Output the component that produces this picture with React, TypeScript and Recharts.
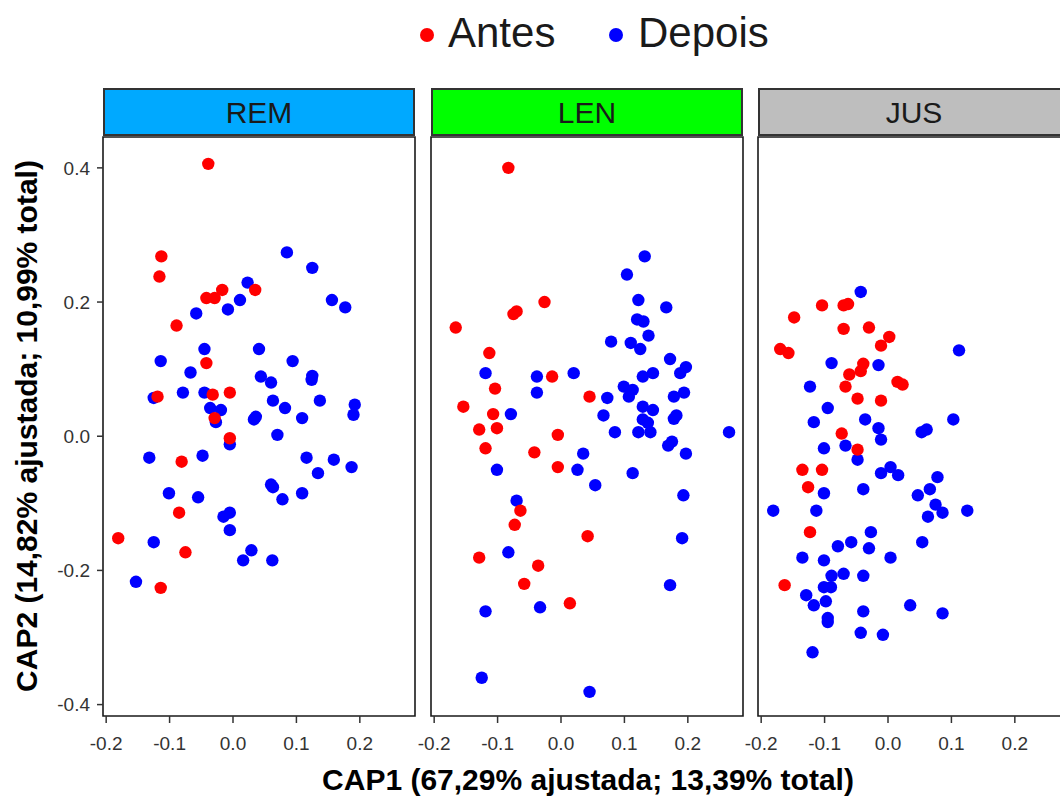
import { ScatterChart, Scatter, XAxis, YAxis, ReferenceArea } from 'recharts';

type Pt = [number, number];

// facet labels and strip colours
const facets = ['REM', 'LEN', 'JUS'];
const stripFills = ['#00A9FF', '#00FF00', '#BEBEBE'];

const xTicks = [-0.2, -0.1, 0, 0.1, 0.2];
const yTicks = [-0.4, -0.2, 0, 0.2, 0.4];

const legendLabels = ['Antes', 'Depois'];
const xTitle = 'CAP1 (67,29% ajustada; 13,39% total)';
const yTitle = 'CAP2 (14,82% ajustada; 10,99% total)';

// REM
const remAntes: Pt[] = [
  [-0.039, 0.406], [-0.113, 0.268], [-0.116, 0.238], [-0.042, 0.206], [-0.029, 0.206],
  [-0.017, 0.218], [0.035, 0.218], [-0.089, 0.165], [-0.042, 0.109], [-0.119, 0.059],
  [-0.032, 0.062], [-0.005, 0.065], [-0.029, 0.027], [-0.081, -0.038], [-0.085, -0.114],
  [-0.181, -0.152], [-0.075, -0.173], [-0.114, -0.226]
];
const remDepois: Pt[] = [
  [0.085, 0.274], [0.125, 0.251], [0.023, 0.229], [0.011, 0.203], [-0.008, 0.189],
  [-0.058, 0.183], [0.156, 0.203], [0.177, 0.192], [-0.045, 0.13], [0.041, 0.13],
  [0.094, 0.112], [-0.114, 0.112], [-0.067, 0.095], [0.044, 0.089], [0.06, 0.08],
  [0.125, 0.09], [0.124, 0.084], [-0.079, 0.065], [-0.045, 0.065], [-0.125, 0.057],
  [0.063, 0.053], [0.137, 0.053], [-0.036, 0.042], [-0.019, 0.039], [-0.027, 0.021],
  [0.082, 0.042], [0.192, 0.047], [0.19, 0.032], [0.033, 0.025], [0.036, 0.029],
  [0.109, 0.027], [0.07, 0.002], [-0.005, -0.012], [-0.132, -0.032], [-0.048, -0.029],
  [0.116, -0.032], [0.159, -0.035], [0.187, -0.046], [0.134, -0.055], [0.06, -0.072],
  [0.063, -0.076], [0.078, -0.094], [0.109, -0.085], [-0.101, -0.085], [-0.055, -0.091],
  [-0.015, -0.12], [-0.005, -0.114], [-0.005, -0.14], [-0.125, -0.158], [0.029, -0.17],
  [0.016, -0.185], [0.062, -0.185], [-0.153, -0.217]
];
const remAntesTop: Pt[] = [[-0.005, -0.003]];

// LEN
const lenAntes: Pt[] = [
  [-0.083, 0.4], [-0.026, 0.2], [-0.075, 0.182], [-0.07, 0.186], [-0.166, 0.162],
  [-0.113, 0.124], [-0.014, 0.089], [-0.104, 0.071], [0.045, 0.059], [-0.154, 0.044],
  [-0.107, 0.033], [-0.129, 0.01], [-0.101, 0.012], [-0.005, 0.002], [-0.119, -0.018],
  [-0.042, -0.024], [-0.005, -0.046], [-0.064, -0.111], [-0.073, -0.132], [0.042, -0.149],
  [-0.129, -0.181], [-0.036, -0.193], [-0.058, -0.22], [0.014, -0.249]
];
const lenDepois: Pt[] = [
  [0.132, 0.268], [0.104, 0.241], [0.122, 0.203], [0.166, 0.192], [0.12, 0.174],
  [0.13, 0.171], [0.138, 0.15], [0.079, 0.141], [0.11, 0.139], [0.125, 0.13],
  [0.172, 0.115], [0.197, 0.103], [0.188, 0.094], [0.145, 0.094], [0.129, 0.089],
  [-0.119, 0.094], [-0.038, 0.089], [0.02, 0.094], [-0.038, 0.065], [0.099, 0.074],
  [0.113, 0.069], [0.107, 0.059], [0.194, 0.065], [0.178, 0.059], [0.073, 0.057],
  [0.129, 0.044], [0.145, 0.039], [-0.079, 0.033], [0.067, 0.031], [0.182, 0.031],
  [0.178, 0.026], [0.129, 0.025], [0.137, 0.02], [0.085, 0.006], [0.122, 0.006],
  [0.141, 0.006], [0.265, 0.006], [0.175, -0.008], [0.169, -0.014], [0.197, -0.026],
  [0.035, -0.026], [-0.101, -0.05], [0.026, -0.05], [0.113, -0.055], [0.054, -0.073],
  [0.193, -0.088], [-0.07, -0.096], [0.191, -0.152], [-0.083, -0.173], [0.172, -0.222],
  [-0.033, -0.255], [-0.119, -0.261], [-0.125, -0.36], [0.045, -0.381]
];

// JUS
const jusAntes: Pt[] = [
  [-0.104, 0.195], [-0.07, 0.195], [-0.063, 0.197], [-0.148, 0.177], [-0.07, 0.16],
  [-0.03, 0.162], [0.002, 0.148], [-0.011, 0.135], [-0.17, 0.13], [-0.157, 0.124],
  [-0.039, 0.108], [-0.043, 0.097], [-0.061, 0.092], [-0.067, 0.074], [0.015, 0.081],
  [0.023, 0.077], [-0.048, 0.056], [-0.011, 0.053], [-0.073, 0.004], [-0.048, -0.02],
  [-0.135, -0.05], [-0.104, -0.05], [-0.126, -0.076], [-0.123, -0.143], [-0.163, -0.222]
];
const jusDepois: Pt[] = [
  [-0.043, 0.215], [0.112, 0.128], [-0.089, 0.109], [-0.015, 0.106], [-0.123, 0.074],
  [-0.095, 0.042], [-0.117, 0.021], [-0.036, 0.025], [-0.015, 0.012], [0.053, 0.006],
  [0.061, 0.01], [0.103, 0.025], [-0.011, -0.005], [-0.101, -0.018], [-0.067, -0.014],
  [-0.048, -0.035], [-0.011, -0.055], [0.004, -0.046], [0.016, -0.058], [0.078, -0.061],
  [-0.101, -0.085], [-0.039, -0.079], [0.066, -0.079], [0.047, -0.088], [0.075, -0.102],
  [0.086, -0.114], [0.063, -0.12], [0.125, -0.111], [-0.181, -0.111], [-0.113, -0.111],
  [-0.027, -0.143], [-0.058, -0.158], [-0.079, -0.164], [-0.03, -0.167], [0.054, -0.158],
  [-0.135, -0.181], [-0.101, -0.185], [0.004, -0.181], [-0.089, -0.208], [-0.07, -0.205],
  [-0.039, -0.208], [-0.101, -0.225], [-0.09, -0.225], [-0.129, -0.237], [-0.098, -0.246],
  [-0.117, -0.252], [0.035, -0.252], [-0.039, -0.261], [0.086, -0.264], [-0.095, -0.271],
  [-0.095, -0.277], [-0.043, -0.293], [-0.008, -0.296], [-0.119, -0.322]
];

const X_DOMAIN: [number, number] = [-0.205, 0.287];
const Y_DOMAIN: [number, number] = [-0.417, 0.446];

const RED = '#FF0000';
const BLUE = '#0000FF';
const FONT = 'Arial, "Liberation Sans", Helvetica, sans-serif';
const TICK_SIZE = 19;

const toXY = (pts: Pt[]) => pts.map(([x, y]) => ({ x, y }));

const dot = (color: string) => (props: any) => (
  <circle cx={props.cx} cy={props.cy} r={6.2} fill={color} />
);

const fmt = (v: number) => v.toFixed(1);

// custom tick text so the font size sticks
const XTick = (p: any) => (
  <text x={p.x} y={p.y} dy="0.71em" textAnchor="middle" fontSize={TICK_SIZE} fill="#333" fontFamily={FONT}>
    {fmt(p.payload.value)}
  </text>
);
const YTick = (p: any) => (
  <text x={p.x} y={p.y} dy="0.36em" textAnchor="end" fontSize={TICK_SIZE} fill="#333" fontFamily={FONT}>
    {fmt(p.payload.value)}
  </text>
);

interface PanelProps {
  index: number;
  antes: Pt[];
  depois: Pt[];
  antesTop?: Pt[];
  showY: boolean;
  left: number;
}

// plot area is 312 x 579, starting at y = 137
function Panel({ index, antes, depois, antesTop = [], showY, left }: PanelProps) {
  const width = showY ? 420 : 352;
  const margin = showY
    ? { top: 137, right: 5, bottom: 0, left: 0 }
    : { top: 137, right: 20, bottom: 0, left: 20 };
  const plotLeft = left + (showY ? 103 : 20);

  return (
    <>
      <div
        style={{
          position: 'absolute',
          left: plotLeft,
          top: 88,
          width: 312,
          height: 48,
          boxSizing: 'border-box',
          border: '2.5px solid #333',
          background: stripFills[index],
          color: '#1a1a1a',
          fontSize: 30,
          lineHeight: '46px',
          textAlign: 'center'
        }}
      >
        {facets[index]}
      </div>
      <div style={{ position: 'absolute', left, top: 0 }}>
        <ScatterChart width={width} height={798} margin={margin}>
          <XAxis
            dataKey="x"
            type="number"
            domain={X_DOMAIN}
            ticks={xTicks}
            allowDataOverflow
            height={82}
            axisLine={false}
            tickSize={7}
            tickMargin={14}
            tickLine={{ stroke: '#333', strokeWidth: 1.5 }}
            tick={XTick}
          />
          <YAxis
            dataKey="y"
            type="number"
            domain={Y_DOMAIN}
            ticks={yTicks}
            allowDataOverflow
            hide={!showY}
            width={103}
            axisLine={false}
            tickSize={6}
            tickMargin={7}
            tickLine={{ stroke: '#333', strokeWidth: 1.5 }}
            tick={YTick}
          />
          <ReferenceArea
            x1={X_DOMAIN[0]}
            x2={X_DOMAIN[1]}
            y1={Y_DOMAIN[0]}
            y2={Y_DOMAIN[1]}
            fill="none"
            stroke="#1a1a1a"
            strokeWidth={1.6}
            ifOverflow="visible"
          />
          <Scatter data={toXY(depois)} shape={dot(BLUE)} isAnimationActive={false} />
          <Scatter data={toXY(antes)} shape={dot(RED)} isAnimationActive={false} />
          {antesTop.length > 0 && (
            <Scatter data={toXY(antesTop)} shape={dot(RED)} isAnimationActive={false} />
          )}
        </ScatterChart>
      </div>
    </>
  );
}

export default function App() {
  return (
    <div
      style={{
        position: 'absolute',
        left: 0,
        top: 0,
        width: 1060,
        height: 798,
        overflow: 'hidden',
        background: '#fff',
        fontFamily: FONT
      }}
    >
      <Panel index={0} antes={remAntes} depois={remDepois} antesTop={remAntesTop} showY left={0} />
      <Panel index={1} antes={lenAntes} depois={lenDepois} showY={false} left={411} />
      <Panel index={2} antes={jusAntes} depois={jusDepois} showY={false} left={738} />

      {/* legend and axis titles */}
      <svg
        width={1060}
        height={798}
        style={{ position: 'absolute', left: 0, top: 0, pointerEvents: 'none' }}
        fontFamily={FONT}
      >
        <circle cx={427} cy={35} r={7} fill={RED} />
        <text x={448} y={47} fontSize={42} fill="#1a1a1a">{legendLabels[0]}</text>
        <circle cx={616} cy={35} r={7} fill={BLUE} />
        <text x={638} y={47} fontSize={42} fill="#1a1a1a">{legendLabels[1]}</text>

        <text x={588} y={790} fontSize={30} fontWeight="bold" textAnchor="middle" fill="#000">
          {xTitle}
        </text>
        <text
          transform="translate(37,426) rotate(-90)"
          fontSize={30}
          fontWeight="bold"
          textAnchor="middle"
          fill="#000"
        >
          {yTitle}
        </text>
      </svg>
    </div>
  );
}
